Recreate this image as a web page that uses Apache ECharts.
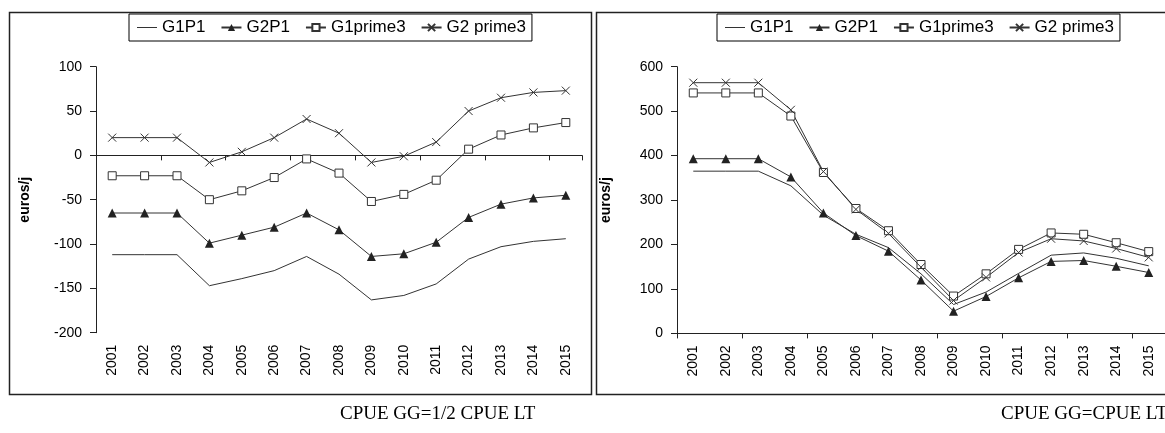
<!DOCTYPE html>
<html>
<head>
<meta charset="utf-8">
<script src="https://cdn.jsdelivr.net/npm/echarts@6/dist/echarts.min.js"></script>
<style>
html,body{margin:0;padding:0;background:#fff;}
#chart{width:1165px;height:433px;}
</style>
</head>
<body>
<div id="chart"></div>
<script>
// ---- data ----
const years = ['2001','2002','2003','2004','2005','2006','2007','2008','2009','2010','2011','2012','2013','2014','2015'];
const seriesNames = ['G1P1','G2P1','G1prime3','G2 prime3'];

// left panel: CPUE GG = 1/2 CPUE LT
const leftG1P1     = [-112,-112,-112,-147,-139,-130,-114,-134,-163,-158,-145,-117,-103,-97,-94];
const leftG2P1     = [-65,-65,-65,-99,-90,-81,-65,-84,-114,-111,-98,-70,-55,-48,-45];
const leftG1prime3 = [-23,-23,-23,-50,-40,-25,-4,-20,-52,-44,-28,7,23,31,37];
const leftG2prime3 = [20,20,20,-8,4,20,41,25,-8,-1,15,50,65,71,73];

// right panel: CPUE GG = CPUE LT
const rightG1P1     = [365,365,365,332,266,223,193,134,65,93,135,176,181,169,152];
const rightG2P1     = [393,393,393,352,271,220,185,120,50,83,125,162,164,151,137];
const rightG1prime3 = [541,541,541,489,362,281,231,155,84,134,189,226,223,204,184];
const rightG2prime3 = [564,564,564,503,364,279,225,149,74,126,182,213,208,191,171];

const leftTicks  = {min:-200, max:100, interval:50};
const rightTicks = {min:0, max:600, interval:100};
const yTitle = 'euros/j';
const captions = ['CPUE GG=1/2 CPUE LT', 'CPUE GG=CPUE LT'];

// ---- styles ----
const SANS = 'Liberation Sans, Arial, sans-serif';
const SERIF = 'Liberation Serif, Times New Roman, serif';
const INK = '#222';
const LINE = '#333';
const crossPath = 'path://M0,0 L10,10 M10,0 L0,10';
const plainLinePath = 'path://M0,0 L20,0 L20,1 L0,1 Z';

function makeSeries(name, data, xi, yi) {
  const base = {
    name: name, type: 'line', data: data, xAxisIndex: xi, yAxisIndex: yi,
    lineStyle: {color: LINE, width: 1}, emphasis: {disabled: true}, z: 3
  };
  if (name === 'G1P1') {
    base.symbol = 'none';
    base.itemStyle = {color: LINE};
  } else if (name === 'G2P1') {
    base.symbol = 'triangle'; base.symbolSize = [9, 9];
    base.itemStyle = {color: '#222', borderWidth: 0};
  } else if (name === 'G1prime3') {
    base.symbol = 'rect'; base.symbolSize = 8;
    base.itemStyle = {color: '#fff', borderColor: LINE, borderWidth: 1};
  } else {
    base.symbol = crossPath; base.symbolSize = 8;
    base.itemStyle = {color: 'rgba(0,0,0,0)', borderColor: LINE, borderWidth: 1};
  }
  return base;
}

function xAxes(gi) {
  return [
    {gridIndex: gi, type: 'category', data: years, boundaryGap: true,
     axisLine: {onZero: true, lineStyle: {color: INK, width: 1}},
     axisTick: {show: true, length: 5, lineStyle: {color: INK}},
     axisLabel: {show: false}, splitLine: {show: false}},
    {gridIndex: gi, type: 'category', data: years, boundaryGap: true, position: 'bottom',
     axisLine: {show: false, onZero: false}, axisTick: {show: false},
     axisLabel: {rotate: 90, margin: 12, fontSize: 14, color: '#000', fontFamily: SANS},
     splitLine: {show: false}}
  ];
}
function yAxis(gi, t) {
  return {gridIndex: gi, type: 'value', min: t.min, max: t.max, interval: t.interval,
    axisLine: {show: true, onZero: false, lineStyle: {color: INK, width: 1}},
    axisTick: {show: true, length: 6, lineStyle: {color: INK}},
    axisLabel: {fontSize: 14, margin: 14, color: '#000', fontFamily: SANS},
    splitLine: {show: false},
    name: yTitle, nameLocation: 'middle', nameGap: 64, nameRotate: 90,
    nameTextStyle: {fontSize: 14, fontWeight: 'bold', color: '#000', fontFamily: SANS}};
}
function legend(left) {
  return {
    data: [
      {name: 'G1P1', icon: plainLinePath},
      {name: 'G2P1'}, {name: 'G1prime3'}, {name: 'G2 prime3'}
    ],
    left: left, top: 14, orient: 'horizontal',
    borderColor: '#000', borderWidth: 1, padding: [5, 6, 5, 8],
    itemWidth: 20, itemHeight: 9, itemGap: 15, selectedMode: false,
    symbolKeepAspect: true,
    textStyle: {fontSize: 17, color: '#000', fontFamily: SANS}};
}

const chart = echarts.init(document.getElementById('chart'), null, {renderer: 'canvas'});
chart.setOption({
  animation: false,
  backgroundColor: '#fff',
  grid: [
    {left: 96, top: 66.7, width: 486, height: 266},
    {left: 677, top: 66.7, width: 489, height: 266.7}
  ],
  xAxis: xAxes(0).concat(xAxes(1)),
  yAxis: [yAxis(0, leftTicks), yAxis(1, rightTicks)],
  legend: [legend(129), legend(717)],
  series: [
    makeSeries('G1P1', leftG1P1, 0, 0),
    makeSeries('G2P1', leftG2P1, 0, 0),
    makeSeries('G1prime3', leftG1prime3, 0, 0),
    makeSeries('G2 prime3', leftG2prime3, 0, 0),
    makeSeries('G1P1', rightG1P1, 2, 1),
    makeSeries('G2P1', rightG2P1, 2, 1),
    makeSeries('G1prime3', rightG1prime3, 2, 1),
    makeSeries('G2 prime3', rightG2prime3, 2, 1)
  ],
  graphic: [
    {type: 'rect', shape: {x: 9.5, y: 12.5, width: 582, height: 382}, style: {fill: 'none', stroke: INK, lineWidth: 1.5}, z: 0, silent: true},
    {type: 'rect', shape: {x: 596.5, y: 12.5, width: 620, height: 382}, style: {fill: 'none', stroke: INK, lineWidth: 1.5}, z: 0, silent: true},
    {type: 'text', left: 340, top: 405, style: {text: captions[0], fontSize: 19, fontFamily: SERIF, fill: '#000'}, silent: true},
    {type: 'text', left: 1001, top: 405, style: {text: captions[1], fontSize: 19, fontFamily: SERIF, fill: '#000'}, silent: true}
  ]
});
</script>
</body>
</html>
